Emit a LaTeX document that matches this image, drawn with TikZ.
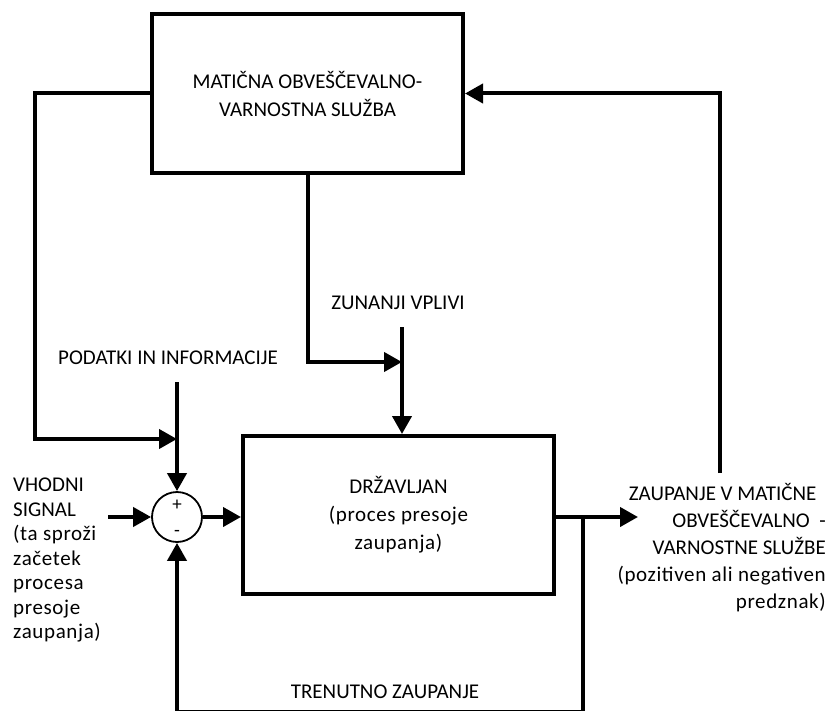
\documentclass[tikz,border=0pt]{standalone}
\usepackage{fontspec}
\setmainfont{Carlito}
\newfontfamily\spaced[LetterSpace=3]{Carlito}
\usetikzlibrary{arrows.meta}
\begin{document}
\begin{tikzpicture}[x=1pt,y=-1pt,
  every node/.style={font=\fontsize{21}{28}\selectfont, inner sep=0pt},
  block/.style={draw, line width=4pt, align=center},
  sumnode/.style={draw, circle, line width=1.8pt, minimum size=50pt},
  arr/.style={line width=4pt, -{Triangle[length=18pt,width=19pt]}},
  lbl/.style={align=center}]
\useasboundingbox (0,0) rectangle (829,711);
\clip (0,0) rectangle (829,711);

% blocks
\node[block, minimum width=311pt, minimum height=159pt] (sluzba) at (307.5,93.5)
  {MATIČNA OBVEŠČEVALNO-\\VARNOSTNA SLUŽBA};
\node[block, minimum width=311pt, minimum height=158pt] (drz) at (398.5,515)
  {DRŽAVLJAN\\{\spaced(proces presoje}\\{\spaced zaupanja)}};
\node[sumnode] (sum) at (177,517) {};
\node[font=\fontsize{19}{19}\selectfont] (plus) at (177,505) {+};
\node[font=\fontsize{19}{19}\selectfont] (minus) at (177,533) {-};

% free ends of the connectors
\coordinate (lc) at (35,439);
\coordinate (pj) at (177,439);
\coordinate (pin) at (177,382);
\coordinate (vin) at (108,517);
\coordinate (zj) at (402,362);
\coordinate (zin) at (402,327);
\coordinate (out) at (638,517);
\coordinate (fb) at (583,517);
\coordinate (fbb) at (583,712);
\coordinate (rt) at (720,473);

% connectors
\draw[arr] (sluzba.west) -| (lc) -- (pj);
\draw[arr] (pin) -- (sum.north);
\draw[arr] (vin) -- (sum.west);
\draw[arr] (sum.east) -- (sum.east -| drz.west);
\draw[arr] (sluzba.south) |- (zj);
\draw[arr] (zin) -- (zin |- drz.north);
\draw[arr] (drz.east |- out) -- (out);
\draw[arr] (fb) -- (fbb) -| (sum.south);
\draw[arr] (rt) |- (sluzba.east);

% labels
\node[lbl] (zv) at (398,303) {ZUNANJI VPLIVI};
\node[lbl, anchor=west] (pod) at (58,358) {PODATKI IN INFORMACIJE};
\node[lbl] (tz) at (385,692) {TRENUTNO ZAUPANJE};
\node[align=left, anchor=north west, font=\fontsize{21}{24.5}\selectfont] (vhod) at (13,478)
  {VHODNI\\SIGNAL\\{\spaced(ta sproži}\\{\spaced začetek}\\{\spaced procesa}\\{\spaced presoje}\\{\spaced zaupanja)}};
\node[align=right, anchor=north east, font=\fontsize{21}{27}\selectfont] (zaup) at (826,483)
  {ZAUPANJE V MATIČNE\hspace*{0.45em}\\OBVEŠČEVALNO\ \ -\\VARNOSTNE SLUŽBE\hspace*{0.45em}\\{\spaced(pozitiven ali negativen}\\{\spaced predznak)}};
\end{tikzpicture}
\end{document}
